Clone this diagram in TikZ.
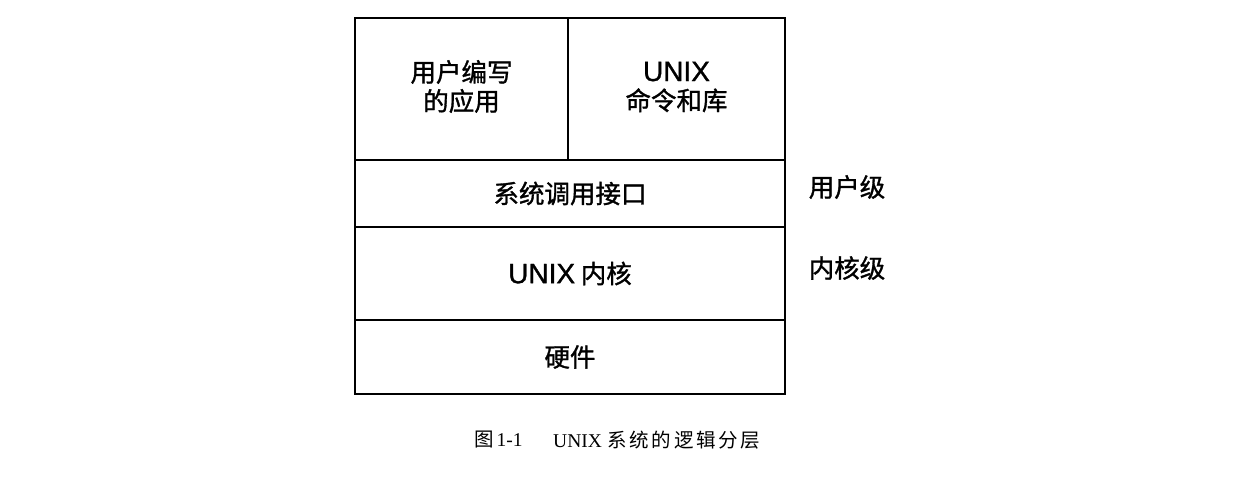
\documentclass[tikz,border=0pt]{standalone}
\usepackage{fontspec}
\setmainfont{Liberation Sans}
\newfontfamily\cjkbox[FakeBold=1.2]{Noto Sans CJK SC}
\newfontfamily\latbox[FakeBold=1.2]{Liberation Sans}
\newfontfamily\cjkcap[LetterSpace=14]{Noto Sans CJK SC}
\newfontfamily\capserif{Liberation Serif}
\begin{document}
\begin{tikzpicture}[x=1pt,y=-1pt,
  cell/.style={draw=black, line width=1.6pt, minimum width=#1, inner sep=0pt, outer sep=0pt},
  boxtxt/.style={font=\fontsize{25.5}{29}\selectfont\cjkbox, align=center, inner sep=0pt},
  lvl/.style={font=\fontsize{25.5}{29}\selectfont\cjkbox, inner sep=0pt},
  captxt/.style={font=\fontsize{19.5}{22}\selectfont, inner sep=0pt}]
\useasboundingbox[fill=white] (0,0) rectangle (1244,494);
% cells
\node[cell=213pt, minimum height=142pt] (app) at (461.5,89) {};
\node[cell=217pt, minimum height=142pt] (cmd) at (676.5,89) {};
\node[cell=430pt, minimum height=67pt] (sci) at (570,193.5) {};
\node[cell=430pt, minimum height=93pt] (kern) at (570,273.5) {};
\node[cell=430pt, minimum height=74pt] (hw) at (570,357) {};
% texts
\node[boxtxt] (appt) at (461.5,86.5) {用户编写\\的应用};
\node[boxtxt] (cmdt) at (676.5,87) {{\latbox\fontsize{28}{29}\selectfont UNIX}\\命令和库};
\node[boxtxt] (scit) at (sci.center) {系统调用接口};
\node[boxtxt] (kernt) at (kern.center) {{\latbox\fontsize{28}{29}\selectfont UNIX} 内核};
\node[boxtxt] (hwt) at (hw.center) {硬件};
% level labels
\node[lvl] (user) at (847,187) {用户级};
\node[lvl] (kernel) at (847,268) {内核级};
% caption
\node[captxt, anchor=west] (fig) at (474,440) {{\cjkcap 图}\kern3pt{\capserif 1-1}};
\node[captxt, anchor=west] (title) at (553,440) {{\capserif UNIX}\ {\cjkcap 系统的逻辑分层}};
\end{tikzpicture}
\end{document}
